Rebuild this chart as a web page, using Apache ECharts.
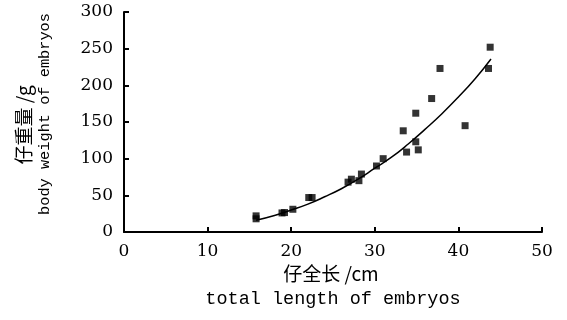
<!DOCTYPE html>
<html>
<head>
<meta charset="utf-8">
<script src="https://cdn.jsdelivr.net/npm/echarts@6/dist/echarts.min.js"></script>
<style>
  html, body { margin: 0; padding: 0; background: #fff; }
  #main { width: 567px; height: 320px; }
</style>
</head>
<body>
<div id="main"></div>
<script type="text/javascript">
    // 观测点：仔全长(cm) 与 仔重量(g)
    var lengths = [15.8, 15.8, 18.9, 19.2, 20.2, 22.1, 22.5, 26.8, 27.2, 28.1, 28.4, 30.2, 31.0,
                   33.4, 33.8, 34.9, 34.9, 35.2, 36.8, 37.8, 40.8, 43.6, 43.8];
    var weights = [22, 18, 26, 26.5, 31, 47, 47, 68, 72, 70, 79, 90, 100,
                   138, 109, 162, 123, 112, 182, 223, 145, 223, 252];
    // 趋势线（读自图中曲线）
    var trendX = [15.8, 18, 20, 22, 24, 26, 28, 30, 32, 34, 36, 38, 40, 42, 43.9];
    var trendY = [16, 22.5, 30, 38, 48, 59, 72, 87, 102, 120, 140, 161, 184, 209, 236];

    var myChart = echarts.init(document.getElementById('main'));

    var scatterData = lengths.map(function (v, i) { return [v, weights[i]]; });
    var trendData = trendX.map(function (v, i) { return [v, trendY[i]]; });

    var numFont = 'DejaVu Serif';

    option = {
        animation: false,
        grid: { left: 124, right: 25, top: 12, bottom: 88 },
        xAxis: {
            type: 'value',
            min: 0, max: 50, interval: 10,
            axisLine: { lineStyle: { color: '#000', width: 2 } },
            axisTick: { inside: true, length: 5, lineStyle: { color: '#000', width: 2 } },
            axisLabel: { color: '#000', fontFamily: numFont, fontSize: 17, margin: 11 },
            splitLine: { show: false }
        },
        yAxis: {
            type: 'value',
            min: 0, max: 300, interval: 50,
            axisLine: { show: true, lineStyle: { color: '#000', width: 2 } },
            axisTick: { show: true, inside: true, length: 5, lineStyle: { color: '#000', width: 2 } },
            axisLabel: { color: '#000', fontFamily: numFont, fontSize: 17, margin: 11 },
            splitLine: { show: false }
        },
        graphic: [
            {
                type: 'text', x: 331, y: 274,
                style: { text: '仔全长 /cm', font: '19px "Noto Sans CJK SC"', fill: '#000', align: 'center', verticalAlign: 'middle' }
            },
            {
                type: 'text', x: 333, y: 299,
                style: { text: 'total length of embryos', font: '18.5px "Liberation Mono"', fill: '#000', align: 'center', verticalAlign: 'middle' }
            },
            {
                type: 'text', x: 24, y: 125, rotation: Math.PI / 2,
                style: { text: '仔重量 /g', font: '19px "Noto Sans CJK SC"', fill: '#000', align: 'center', verticalAlign: 'middle' }
            },
            {
                type: 'text', x: 45, y: 114, rotation: Math.PI / 2,
                style: { text: 'body weight of embryos', font: '15.3px "Liberation Mono"', fill: '#000', align: 'center', verticalAlign: 'middle' }
            }
        ],
        series: [
            {
                type: 'scatter',
                data: scatterData,
                symbol: 'rect',
                symbolSize: 7,
                itemStyle: { color: '#000' }
            },
            {
                type: 'line',
                data: trendData,
                smooth: true,
                showSymbol: false,
                lineStyle: { color: '#000', width: 1.5 }
            }
        ]
    };

    myChart.setOption(option);
</script>
</body>
</html>
